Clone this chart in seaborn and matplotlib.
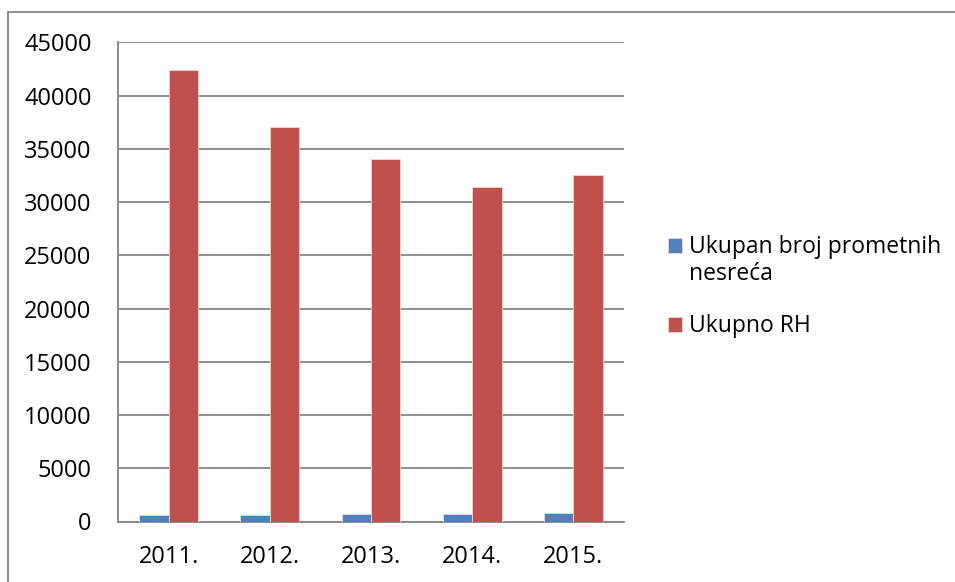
import numpy as np
import pandas as pd
import matplotlib.pyplot as plt
import seaborn as sns
from matplotlib.patches import Rectangle

years = ["2011.", "2012.", "2013.", "2014.", "2015."]
prometne = [630, 580, 710, 660, 810]
ukupno_rh = [42443, 37065, 34021, 31432, 32525]
series_names = ["Ukupan broj prometnih", "Ukupno RH"]
label_wrap = "nesreća"

df = pd.DataFrame({
    "godina": years * 2,
    "broj": prometne + ukupno_rh,
    "serija": [series_names[0]] * len(years) + [series_names[1]] * len(years),
})

sns.set_style("white")
plt.rcParams["font.family"] = ["Open Sans", "DejaVu Sans"]
plt.rcParams["text.color"] = "black"
plt.rcParams["xtick.color"] = "black"
plt.rcParams["ytick.color"] = "black"

fig = plt.figure(figsize=(9.55, 5.82), dpi=100)
ax = fig.add_axes([118 / 955, 1 - 521.5 / 582, (624 - 118) / 955, (521.5 - 42.3) / 582])

grey = "#868686"
sns.barplot(data=df, x="godina", y="broj", hue="serija", ax=ax,
            palette=["#4F81BD", "#C0504D"], saturation=1, width=0.58,
            edgecolor="#f2d4d4", linewidth=0.6, zorder=3)

ax.set_xlim(-0.5, 4.5)
ax.set_ylim(0, 45000)
ax.set_yticks(np.arange(0, 45001, 5000))
ax.yaxis.grid(True, color=grey, linewidth=1.3)
ax.set_axisbelow(True)
ax.set_xlabel("")
ax.set_ylabel("")

for s in ["top", "right"]:
    ax.spines[s].set_visible(False)
for s in ["left", "bottom"]:
    ax.spines[s].set_color(grey)
    ax.spines[s].set_linewidth(1.3)

ax.tick_params(axis="y", length=8, width=1.3, color=grey, pad=11, labelsize=17)
ax.tick_params(axis="x", which="major", length=0, pad=17, labelsize=17)
ax.set_xticks(np.arange(-0.5, 5, 1), minor=True)
ax.tick_params(axis="x", which="minor", length=8, width=1.3, color=grey)

leg = ax.legend(loc="upper left", bbox_to_anchor=(659 / 955, 1 - 226 / 582),
                bbox_transform=fig.transFigure, frameon=False, fontsize=16.5,
                handlelength=0.62, handleheight=0.62, handletextpad=0.3,
                labelspacing=2.4, borderaxespad=0)

# second line of the first legend label, placed under the first line
fig.canvas.draw()
bb = leg.get_texts()[0].get_window_extent()
fig.text(bb.x0 / fig.dpi / fig.get_figwidth(), (bb.y0 - 27) / fig.dpi / fig.get_figheight(),
         label_wrap, fontsize=16.5, ha="left", va="bottom")

fig.patches.append(Rectangle((8 / 955, -0.1), 1.2, 1 - 12 / 582 + 0.1,
                             transform=fig.transFigure, fill=False,
                             edgecolor=grey, linewidth=1.3))

plt.savefig("out.png", dpi=100)
plt.close()
